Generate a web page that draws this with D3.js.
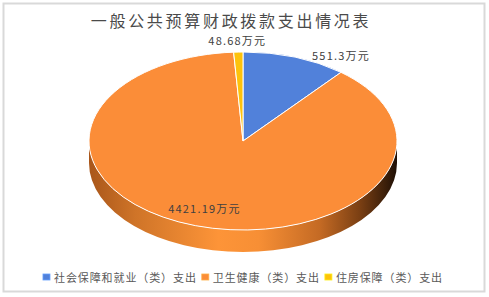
<!DOCTYPE html>
<html><head><meta charset="utf-8">
<script src="https://cdn.jsdelivr.net/npm/d3@7/dist/d3.min.js"></script>
<style>
html,body{margin:0;padding:0;background:#fff;}
svg{display:block;font-family:"Noto Sans CJK SC","Noto Sans",sans-serif;}
</style></head>
<body><svg id="chart" width="489" height="297"></svg>
<script>
const title = "一般公共预算财政拨款支出情况表";
const categories = ["社会保障和就业（类）支出", "卫生健康（类）支出", "住房保障（类）支出"];
const values = [551.3, 4421.19, 48.68];
const valueLabels = ["551.3万元", "4421.19万元", "48.68万元"];
const colors = ["#5181da", "#fb8d38", "#fdc20c"];

const W = 489, H = 297;
const svg = d3.select("#chart");
const cx = 243, cy = 141, rx = 154, ry = 89, depth = 22;

// border
svg.append("rect").attr("x", 3.5).attr("y", 3.5).attr("width", 481).attr("height", 288)
  .attr("fill", "#fff").attr("stroke", "#d9d9d9").attr("stroke-width", 2);

// title
svg.append("text").attr("x", 231).attr("y", 27).attr("text-anchor", "middle")
  .attr("font-size", 16).attr("letter-spacing", 2.7).attr("fill", "#4a4a4a").text(title);

const pie = d3.pie().sort(null).value(d => d)(values);
const pt = (a, f = 1) => [cx + rx * f * Math.sin(a), cy - ry * f * Math.cos(a)];

// gradient for side
const defs = svg.append("defs");
const grad = defs.append("linearGradient").attr("id", "sideGrad")
  .attr("gradientUnits", "userSpaceOnUse")
  .attr("x1", cx - rx).attr("x2", cx + rx).attr("y1", 0).attr("y2", 0);
[[0, "#a9561a"], [0.15, "#cf7428"], [0.42, "#fd9438"], [0.55, "#f78f35"], [0.75, "#c46a24"], [0.88, "#7a3f13"], [1, "#1f1006"]]
  .forEach(([o, c]) => grad.append("stop").attr("offset", o).attr("stop-color", c));

// sides (front half only)
const sideG = svg.append("g");
pie.forEach((d, i) => {
  const a0 = Math.max(d.startAngle, Math.PI / 2), a1 = Math.min(d.endAngle, 3 * Math.PI / 2);
  if (a1 <= a0) return;
  const p0 = pt(a0), p1 = pt(a1);
  const path = `M${p0[0]},${p0[1]} A${rx},${ry} 0 0 1 ${p1[0]},${p1[1]} L${p1[0]},${p1[1] + depth} A${rx},${ry} 0 0 0 ${p0[0]},${p0[1] + depth} Z`;
  sideG.append("path").attr("d", path).attr("fill", i === 1 ? "url(#sideGrad)" : d3.color(colors[i]).darker(0.8));
});

// top
const arc = d3.arc().innerRadius(0).outerRadius(rx);
const topG = svg.append("g").attr("transform", `translate(${cx},${cy}) scale(1,${ry / rx})`);
topG.selectAll("path").data(pie).join("path")
  .attr("d", arc).attr("fill", (d, i) => colors[i])
  .attr("stroke", "#fff").attr("stroke-width", 1).attr("vector-effect", "non-scaling-stroke");

// labels
pie.forEach((d, i) => {
  const mid = (d.startAngle + d.endAngle) / 2;
  const share = (d.endAngle - d.startAngle) / (2 * Math.PI);
  let x, y, anchor;
  if (share > 0.5) {
    [x, y] = pt(mid, 0.81); anchor = "middle";
  } else {
    const p = pt(mid, 1.0);
    if (Math.abs(Math.sin(mid)) < 0.2) { x = p[0] - 1; y = p[1] - 11; anchor = "middle"; }
    else { x = p[0] + 17; y = p[1] - 1; anchor = "start"; }
  }
  svg.append("text").attr("x", x).attr("y", y).attr("dy", "0.35em").attr("text-anchor", anchor)
    .attr("font-size", 11).attr("letter-spacing", 1.2).attr("fill", "#404040").text(valueLabels[i]);
});

// legend
const legG = svg.append("g");
let lx = 0;
categories.forEach((c, i) => {
  const g = legG.append("g").attr("transform", `translate(${lx},0)`);
  g.append("rect").attr("x", 0).attr("y", -4).attr("width", 7).attr("height", 6)
    .attr("fill", colors[i]).attr("stroke", d3.color(colors[i]).brighter(0.6)).attr("stroke-width", 0.8);
  const t = g.append("text").attr("x", 11).attr("y", 0).attr("dy", "0.35em")
    .attr("font-size", 11).attr("letter-spacing", 0.9).attr("fill", "#595959").text(c);
  lx += 11 + t.node().getComputedTextLength() + 5;
});
const legW = lx - 5;
legG.attr("transform", `translate(${cx - legW / 2},278)`);
</script></body></html>
